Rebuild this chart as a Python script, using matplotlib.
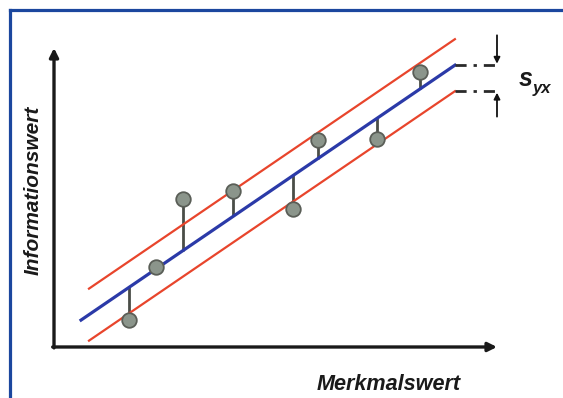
import matplotlib
matplotlib.use("Agg")
import matplotlib.pyplot as plt
from matplotlib.lines import Line2D
import numpy as np

# observed points (Merkmalswert, Informationswert)
x_obs = [1.69, 2.30, 2.91, 4.04, 5.40, 5.96, 7.29, 8.26]
y_obs = [0.90, 2.68, 4.95, 5.22, 4.62, 6.92, 6.96, 9.20]

# regression line and standard error band
intercept = 0.284
slope = 1.01
s_yx = 0.87
line_x = [0.61, 9.05]
band_x = [0.79, 9.05]
x_end = 10.0          # end of the axes / position of the s_yx arrows

axis_col = "#1a1a1a"
blue = "#2b3aa8"
red = "#e8452c"
stem_col = "#4a4d47"

fig = plt.figure(figsize=(5.63, 3.98), dpi=100)
ax = fig.add_axes([0, 0, 1, 1])
ax.set_xlim(-1.219, 11.490)
ax.set_ylim(-1.706, 11.605)
ax.axis("off")

# frame (only top and left edges are visible)
fw = 10 / 563
fh = 1 - 10 / 398
fig.add_artist(Line2D([fw, 1], [fh, fh], color="#1b479e", lw=2.3, transform=fig.transFigure))
fig.add_artist(Line2D([fw, fw], [0, fh], color="#1b479e", lw=2.3, transform=fig.transFigure))

# axes with arrow heads
arrow = dict(arrowstyle="-|>", lw=2.4, color=axis_col, mutation_scale=13, shrinkA=0, shrinkB=0)
ax.annotate("", xy=(0, 10.0), xytext=(0, -0.03), arrowprops=arrow)
ax.annotate("", xy=(x_end, 0), xytext=(-0.03, 0), arrowprops=arrow)

fit = lambda x: intercept + slope * np.asarray(x)

# stems from the regression line to each point
for xi, yi in zip(x_obs, y_obs):
    ax.plot([xi, xi], [fit(xi), yi], color=stem_col, lw=2.0, zorder=2, solid_capstyle="butt")

# regression line and +/- s_yx band
bx = np.array(band_x)
ax.plot(bx, fit(bx) + s_yx, color=red, lw=1.6, zorder=3)
ax.plot(bx, fit(bx) - s_yx, color=red, lw=1.6, zorder=3)
lx = np.array(line_x)
ax.plot(lx, fit(lx), color=blue, lw=2.3, zorder=3)

ax.scatter(x_obs, y_obs, s=110, color="#8b958b", edgecolors="#5a5e57", linewidths=1.3, zorder=4)

# dash-dot extensions to the s_yx marker
for y0 in [fit(line_x[1]), fit(band_x[1]) - s_yx]:
    ax.plot([line_x[1], x_end - 0.05], [y0, y0], color="#2a2a2a", lw=2.0,
            dashes=(4, 2.5, 1.2, 2.5), zorder=3)

small = dict(arrowstyle="-|>", lw=1.3, color="#111111", mutation_scale=9, shrinkA=0, shrinkB=0)
y_top = fit(line_x[1])
y_bot = fit(band_x[1]) - s_yx
ax.annotate("", xy=(x_end, y_top + 0.05), xytext=(x_end, y_top + 1.0), arrowprops=small)
ax.annotate("", xy=(x_end, y_bot - 0.05), xytext=(x_end, y_bot - 0.85), arrowprops=small)

font = dict(family=["Liberation Sans", "DejaVu Sans"], weight="bold", style="italic", color="#1a1a1a")
ax.text(10.50, 8.73, "s", fontsize=18, ha="left", va="baseline", **font)
ax.text(10.80, 8.50, "yx", fontsize=12, ha="left", va="baseline", **font)

ax.text(7.56, -1.24, "Merkmalswert", fontsize=15.6, ha="center", va="center", **font)
ax.text(-0.47, 5.25, "Informationswert", fontsize=15, ha="center", va="center", rotation=90, **font)

fig.savefig("out.png", dpi=100)
